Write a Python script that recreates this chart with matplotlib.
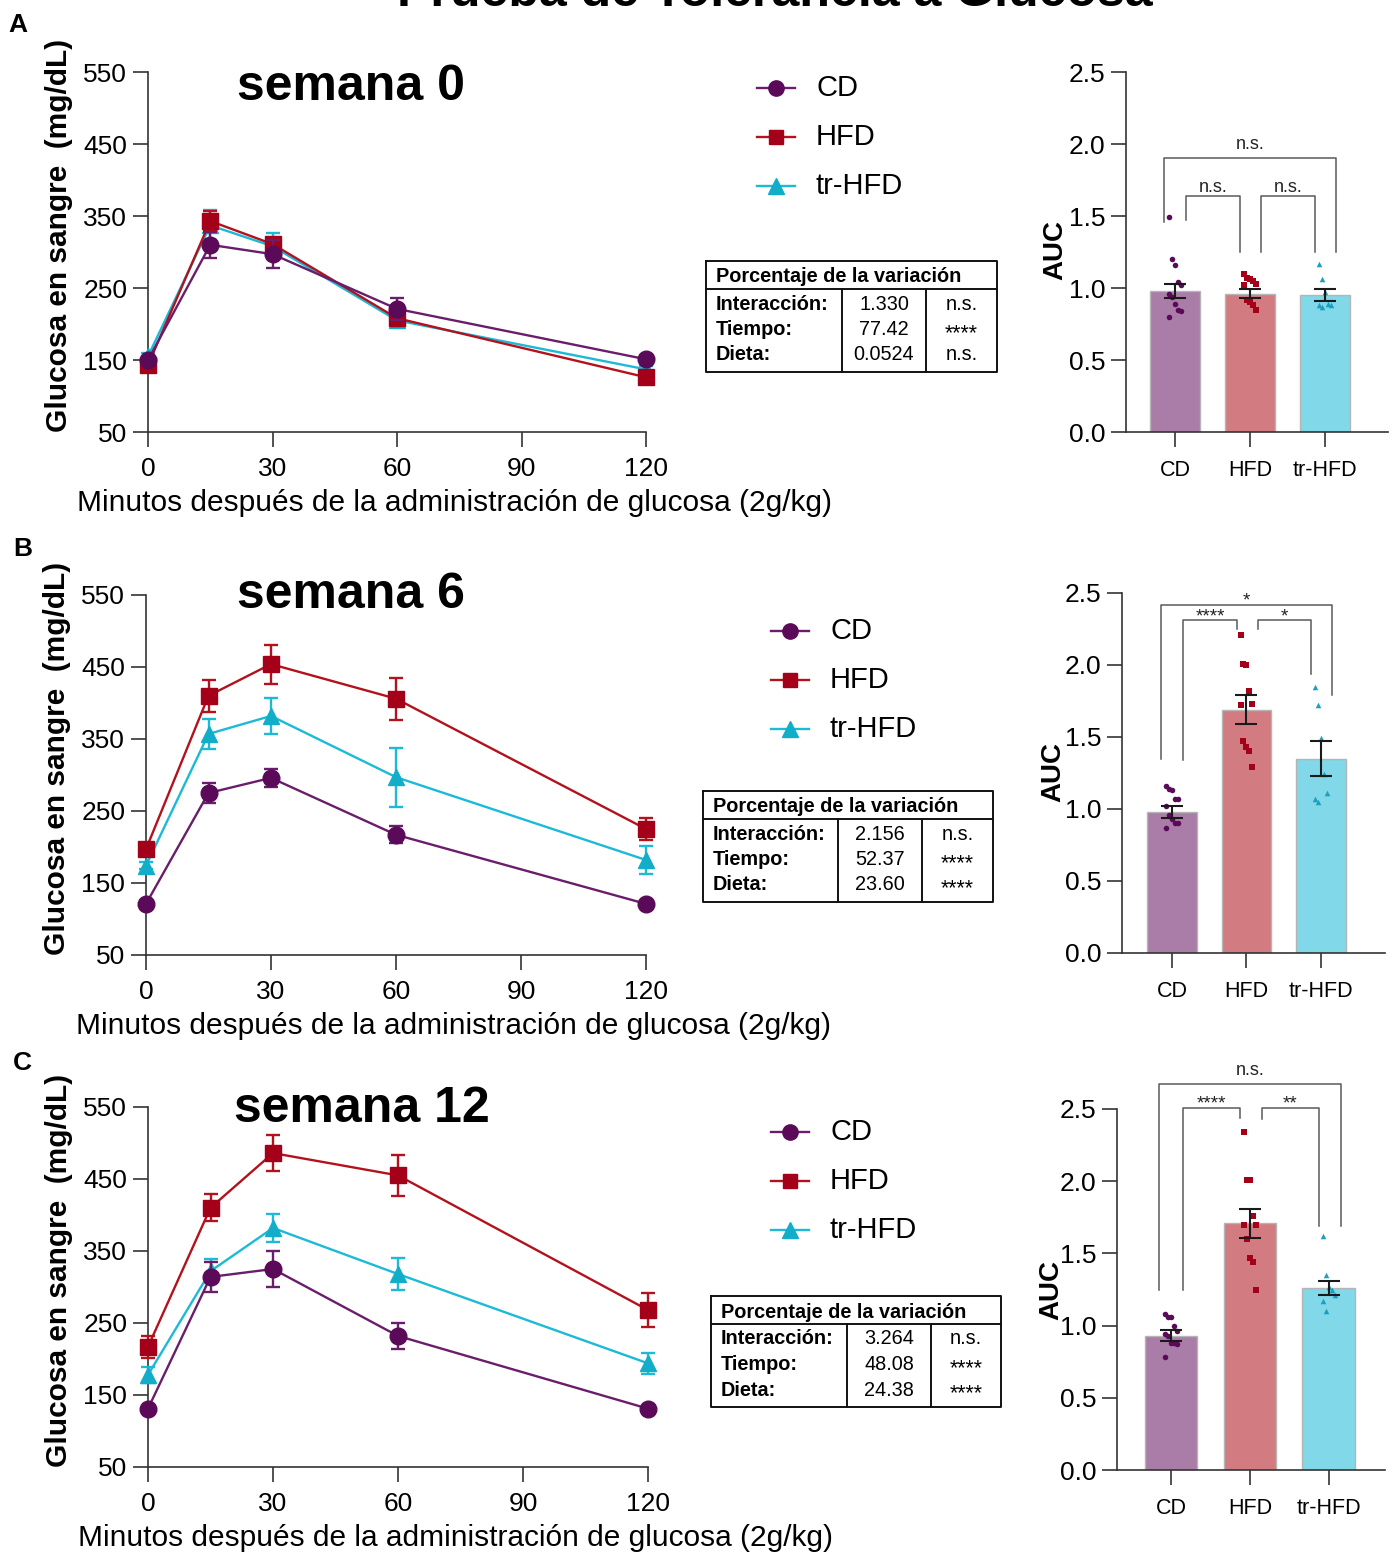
import matplotlib
matplotlib.use('Agg')
import matplotlib.pyplot as plt
import numpy as np

plt.rcParams['font.family'] = ['Liberation Sans', 'DejaVu Sans']

W, H = 1395, 1555

# ---------------- data ----------------
minutes = [0, 15, 30, 60, 120]
groups = ['CD', 'HFD', 'tr-HFD']
weeks = ['semana 0', 'semana 6', 'semana 12']

# glucose curves, mean and SEM (mg/dL)
w0_cd = [150, 310, 297, 221, 151]
w0_cd_sem = [4, 18, 19, 15, 4]
w0_hfd = [143, 343, 311, 208, 126]
w0_hfd_sem = [5, 14, 8, 8, 5]
w0_tr = [155, 337, 308, 205, 137]
w0_tr_sem = [5, 21, 18, 8, 5]

w6_cd = [121, 275, 296, 217, 121]
w6_cd_sem = [3, 14, 12, 12, 3]
w6_hfd = [197, 410, 454, 406, 225]
w6_hfd_sem = [6, 22, 27, 29, 15]
w6_tr = [174, 357, 382, 297, 182]
w6_tr_sem = [5, 21, 25, 41, 19]

w12_cd = [131, 314, 325, 232, 131]
w12_cd_sem = [3, 21, 25, 18, 3]
w12_hfd = [217, 410, 486, 455, 268]
w12_hfd_sem = [15, 19, 25, 28, 23]
w12_tr = [178, 322, 382, 318, 194]
w12_tr_sem = [11, 17, 20, 22, 15]

# AUC bars
w0_auc = [0.98, 0.96, 0.95]
w0_auc_sem = [0.05, 0.03, 0.04]
w6_auc = [0.98, 1.69, 1.35]
w6_auc_sem = [0.04, 0.10, 0.12]
w12_auc = [0.93, 1.71, 1.26]
w12_auc_sem = [0.04, 0.10, 0.05]

w0_pts_cd = [1.49, 1.20, 1.16, 1.04, 1.02, 0.96, 0.94, 0.89, 0.85, 0.84, 0.80]
w0_pts_hfd = [1.10, 1.07, 1.06, 1.05, 1.03, 1.02, 0.92, 0.90, 0.88, 0.85]
w0_pts_tr = [1.17, 1.06, 0.97, 0.89, 0.885, 0.88, 0.87]
w6_pts_cd = [1.16, 1.14, 1.13, 1.07, 1.07, 1.02, 0.96, 0.93, 0.90, 0.90, 0.87]
w6_pts_hfd = [2.21, 2.01, 2.00, 1.82, 1.73, 1.72, 1.47, 1.43, 1.40, 1.29]
w6_pts_tr = [1.85, 1.72, 1.49, 1.24, 1.11, 1.07, 1.05]
w12_pts_cd = [1.08, 1.06, 1.06, 1.00, 0.96, 0.94, 0.93, 0.88, 0.88, 0.87, 0.78]
w12_pts_hfd = [2.34, 2.01, 2.01, 1.76, 1.70, 1.70, 1.60, 1.47, 1.44, 1.25]
w12_pts_tr = [1.62, 1.35, 1.27, 1.25, 1.21, 1.17, 1.10]

# two-way ANOVA, % of variation
anova_rows = ['Interacción:', 'Tiempo:', 'Dieta:']
w0_pct = ['1.330', '77.42', '0.0524']
w0_sig = ['n.s.', '****', 'n.s.']
w6_pct = ['2.156', '52.37', '23.60']
w6_sig = ['n.s.', '****', '****']
w12_pct = ['3.264', '48.08', '24.38']
w12_sig = ['n.s.', '****', '****']

# bracket labels: outer (CD vs tr-HFD), CD vs HFD, HFD vs tr-HFD
w0_cmp = ['n.s.', 'n.s.', 'n.s.']
w6_cmp = ['*', '****', '*']
w12_cmp = ['n.s.', '****', '**']

# ---------------- styles ----------------
line_col = ['#6a1d6a', '#b3121d', '#1cbad6']
mark_col = ['#5a0a58', '#a4001a', '#12adc9']
bar_col = ['#aa7da8', '#d27c82', '#80d8e8']
dot_col = ['#5a0a58', '#a4001a', '#1a9fbf']
markers = ['o', 's', '^']
msize = [12, 11, 12]

fig = plt.figure(figsize=(W / 100, H / 100), dpi=100)


def axes_px(left, top, right, bottom):
    return fig.add_axes([left / W, 1 - bottom / H, (right - left) / W, (bottom - top) / H])


def style_axes(ax):
    for s in ('top', 'right'):
        ax.spines[s].set_visible(False)
    for s in ('left', 'bottom'):
        ax.spines[s].set_linewidth(1.2)
        ax.spines[s].set_color('#333333')
    ax.tick_params(length=11, width=1.2, color='#333333', pad=4)


panels = [
    dict(curves=[(w0_cd, w0_cd_sem), (w0_hfd, w0_hfd_sem), (w0_tr, w0_tr_sem)],
         auc=w0_auc, auc_sem=w0_auc_sem, pts=[w0_pts_cd, w0_pts_hfd, w0_pts_tr],
         pct=w0_pct, sig=w0_sig, cmp=w0_cmp,
         line_box=(148, 72, 646, 432), bar_box=(1126, 72, 1388, 432), bar_xlim=(-0.653, 2.84),
         title_xy=(351, 100), leg_x=757, leg_y=88, table=(706, 261, 997, 372, 842, 926),
         letter=('A', 8, 32), br_y=(1.90, 1.64), br_legs=[(1.46, 1.25), (1.47, 1.25), (1.25, 1.25)],
         auc_lab=(-0.221, 0.506)),
    dict(curves=[(w6_cd, w6_cd_sem), (w6_hfd, w6_hfd_sem), (w6_tr, w6_tr_sem)],
         auc=w6_auc, auc_sem=w6_auc_sem, pts=[w6_pts_cd, w6_pts_hfd, w6_pts_tr],
         pct=w6_pct, sig=w6_sig, cmp=w6_cmp,
         line_box=(146, 595, 646, 955), bar_box=(1122, 593, 1385, 953), bar_xlim=(-0.671, 2.86),
         title_xy=(351, 608), leg_x=771, leg_y=631, table=(703, 791, 993, 902, 838, 922),
         letter=('B', 13, 556), br_y=(2.42, 2.31), br_legs=[(1.35, 1.79), (1.34, 2.25), (2.25, 1.94)],
         auc_lab=(-0.213, 0.503)),
    dict(curves=[(w12_cd, w12_cd_sem), (w12_hfd, w12_hfd_sem), (w12_tr, w12_tr_sem)],
         auc=w12_auc, auc_sem=w12_auc_sem, pts=[w12_pts_cd, w12_pts_hfd, w12_pts_tr],
         pct=w12_pct, sig=w12_sig, cmp=w12_cmp,
         line_box=(148, 1107, 648, 1467), bar_box=(1117, 1109, 1385, 1470), bar_xlim=(-0.684, 2.71),
         title_xy=(362, 1122), leg_x=771, leg_y=1132, table=(711, 1296, 1001, 1407, 847, 931),
         letter=('C', 13, 1070), br_y=(2.67, 2.51), br_legs=[(1.25, 1.69), (1.25, 2.44), (2.43, 1.69)],
         auc_lab=(-0.198, 0.499)),
]

br_x = [(-0.15, 2.15), (0.15, 0.87), (1.15, 1.87)]

for p in panels:
    # ---- glucose curve ----
    ax = axes_px(*p['line_box'])
    style_axes(ax)
    for g in (2, 1, 0):
        m, s = p['curves'][g]
        eb = ax.errorbar(minutes, m, yerr=s, color=line_col[g], lw=1.7, elinewidth=1.7,
                         capsize=5, capthick=1.7, marker=markers[g], ms=msize[g],
                         mfc=mark_col[g], mec=mark_col[g], zorder=3 + (2 - g))
        for art in eb.get_children():
            art.set_clip_on(False)
    ax.set_xlim(0, 120)
    ax.set_ylim(50, 550)
    ax.set_xticks([0, 30, 60, 90, 120])
    ax.set_yticks([50, 150, 250, 350, 450, 550])
    ax.tick_params(labelsize=19)
    ax.tick_params(axis='x', pad=7)
    ax.set_xlabel('Minutos después de la administración de glucosa (2g/kg)', fontsize=21.5)
    ax.set_ylabel('Glucosa en sangre  (mg/dL)', fontsize=21.5, fontweight='bold')
    ax.xaxis.set_label_coords(0.616, -0.158)
    ax.yaxis.set_label_coords(-0.150, 0.545)

    # ---- AUC bars ----
    bx = axes_px(*p['bar_box'])
    style_axes(bx)
    xs = np.arange(3)
    bx.bar(xs, p['auc'], width=0.67, color=bar_col, edgecolor='#b5b5b5', lw=1, zorder=1)
    for g in range(3):
        vals = p['pts'][g]
        offs = [((i % 5) - 2) * 0.04 for i in range(len(vals))]
        bx.scatter(g + np.array(offs), vals, s=16, marker=markers[g], color=dot_col[g],
                   zorder=2, linewidths=0)
    bx.errorbar(xs, p['auc'], yerr=p['auc_sem'], fmt='none', ecolor='#1a1a1a', elinewidth=1.5,
                capsize=8, capthick=1.5, zorder=3)
    bx.set_xlim(*p['bar_xlim'])
    bx.set_ylim(0, 2.5)
    bx.set_yticks([0, 0.5, 1.0, 1.5, 2.0, 2.5])
    bx.set_yticklabels(['0.0', '0.5', '1.0', '1.5', '2.0', '2.5'])
    bx.set_xticks(xs)
    bx.set_xticklabels(groups)
    bx.tick_params(axis='y', labelsize=19)
    bx.tick_params(axis='x', labelsize=15.5, pad=9)
    bx.set_ylabel('AUC', fontsize=20, fontweight='bold')
    bx.yaxis.set_label_coords(*p['auc_lab'])

    # significance brackets
    for k in range(3):
        x1, x2 = br_x[k]
        y = p['br_y'][0] if k == 0 else p['br_y'][1]
        l1, l2 = p['br_legs'][k]
        bx.plot([x1, x1, x2, x2], [l1, y, y, l2], color='#5a5a5a', lw=1.1, clip_on=False)
        lab = p['cmp'][k]
        if lab == 'n.s.':
            off = 0.04 if k == 0 else 0.0
            bx.text((x1 + x2) / 2, y + off, lab, ha='center', va='bottom', fontsize=13,
                    color='#222222', clip_on=False)
        else:
            bx.text((x1 + x2) / 2, y - 0.035, lab, ha='center', va='bottom', fontsize=13.5,
                    color='#222222', clip_on=False)

# ---------------- overlay: titles, legends, tables ----------------
ov = fig.add_axes([0, 0, 1, 1])
ov.set_xlim(0, W)
ov.set_ylim(H, 0)
ov.axis('off')

# the main title is cropped at the top edge, as in the source figure
ov.text(775, 6, 'Prueba de Tolerancia a Glucosa', ha='center', va='baseline',
        fontsize=36, fontweight='bold')

for i, p in enumerate(panels):
    lt, lx, ly = p['letter']
    ov.text(lx, ly, lt, ha='left', va='baseline', fontsize=19, fontweight='bold')
    tx, ty = p['title_xy']
    ov.text(tx, ty, weeks[i], ha='center', va='baseline', fontsize=36, fontweight='bold')

    # legend
    for g in range(3):
        yy = p['leg_y'] + g * 49
        ov.plot([p['leg_x'], p['leg_x'] + 38], [yy, yy], color=line_col[g], lw=1.7)
        ov.plot([p['leg_x'] + 19], [yy], marker=markers[g], ms=msize[g] - 1,
                color=mark_col[g], mec=mark_col[g])
        ov.text(p['leg_x'] + 59, yy, groups[g], ha='left', va='center', fontsize=21)

    # ANOVA table
    x0, y0, x1, y1, c1, c2 = p['table']
    hl = y0 + 28
    ov.plot([x0, x1, x1, x0, x0], [y0, y0, y1, y1, y0], color='#111111', lw=1.4)
    ov.plot([x0, x1], [hl, hl], color='#111111', lw=1.4)
    ov.plot([c1, c1], [hl, y1], color='#111111', lw=1.4)
    ov.plot([c2, c2], [hl, y1], color='#111111', lw=1.4)
    ov.text(x0 + 10, y0 + 16, 'Porcentaje de la variación', ha='left', va='center',
            fontsize=14.3, fontweight='bold')
    for r in range(3):
        yy = hl + 15 + r * 25.5
        ov.text(x0 + 10, yy, anova_rows[r], ha='left', va='center', fontsize=14.3,
                fontweight='bold')
        ov.text((c1 + c2) / 2, yy, p['pct'][r], ha='center', va='center', fontsize=14.3)
        sg = p['sig'][r]
        if sg == 'n.s.':
            ov.text((c2 + x1) / 2, yy, sg, ha='center', va='center', fontsize=14.3)
        else:
            ov.text((c2 + x1) / 2, yy + 4, sg, ha='center', va='center', fontsize=15.5)

fig.savefig('out.png', dpi=100)
